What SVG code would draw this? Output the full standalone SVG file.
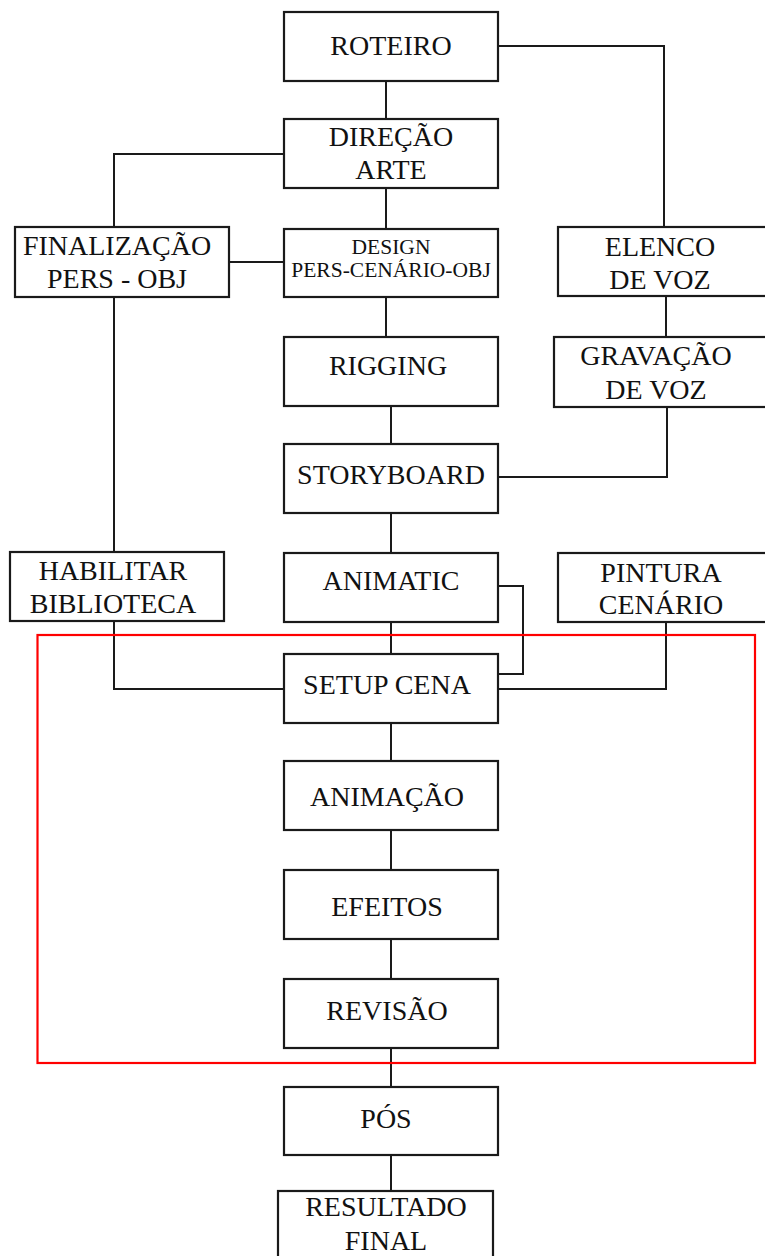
<svg xmlns="http://www.w3.org/2000/svg" width="765" height="1256" viewBox="0 0 765 1256">
<style>
.box{fill:#fff;stroke:#1a1a1a;stroke-width:2.2}
.ln{fill:none;stroke:#1a1a1a;stroke-width:2}
.t{font-family:"Liberation Serif","Times New Roman",serif;font-size:28px;fill:#111;text-anchor:middle}
.s{font-size:21.5px}
</style>
<rect width="765" height="1256" fill="#fff"/>
<g id="connectors">
<path class="ln" d="M386 81V119"/>
<path class="ln" d="M498 46H664V227"/>
<path class="ln" d="M284 154H114V227"/>
<path class="ln" d="M386 188V229"/>
<path class="ln" d="M229 262H284"/>
<path class="ln" d="M114 297V552"/>
<path class="ln" d="M386 297V337"/>
<path class="ln" d="M666 296V337"/>
<path class="ln" d="M391 406V444"/>
<path class="ln" d="M667 407V477H498"/>
<path class="ln" d="M391 513V553"/>
<path class="ln" d="M391 622V654"/>
<path class="ln" d="M498 586H523V674H498"/>
<path class="ln" d="M114 621V689H284"/>
<path class="ln" d="M666 622V689H498"/>
<path class="ln" d="M391 723V761"/>
<path class="ln" d="M391 830V870"/>
<path class="ln" d="M391 939V979"/>
<path class="ln" d="M391 1048V1087"/>
<path class="ln" d="M391 1155V1191"/>
</g>
<rect id="highlight" x="37.5" y="635" width="717.5" height="428" fill="none" stroke="#f00" stroke-width="2.2"/>
<g id="roteiro"><rect class="box" x="284" y="12" width="214" height="69"/><text class="t" x="391" y="55">ROTEIRO</text></g>
<g id="direcao"><rect class="box" x="284" y="119" width="214" height="69"/><text class="t" x="391" y="146">DIREÇÃO</text><text class="t" x="391" y="179">ARTE</text></g>
<g id="finalizacao"><rect class="box" x="15" y="227" width="214" height="70"/><text class="t" x="117" y="255">FINALIZAÇÃO</text><text class="t" x="117" y="288">PERS - OBJ</text></g>
<g id="design"><rect class="box" x="284" y="229" width="214" height="68"/><text class="t s" x="391" y="254">DESIGN</text><text class="t s" x="391" y="277">PERS-CENÁRIO-OBJ</text></g>
<g id="elenco"><rect class="box" x="558" y="227" width="215" height="69"/><text class="t" x="660" y="256">ELENCO</text><text class="t" x="660" y="289">DE VOZ</text></g>
<g id="rigging"><rect class="box" x="284" y="337" width="214" height="69"/><text class="t" x="388" y="375">RIGGING</text></g>
<g id="gravacao"><rect class="box" x="554" y="337" width="219" height="70"/><text class="t" x="656" y="365">GRAVAÇÃO</text><text class="t" x="656" y="399">DE VOZ</text></g>
<g id="storyboard"><rect class="box" x="284" y="444" width="214" height="69"/><text class="t" x="391" y="484">STORYBOARD</text></g>
<g id="habilitar"><rect class="box" x="10" y="552" width="214" height="69"/><text class="t" x="113" y="580">HABILITAR</text><text class="t" x="113" y="613">BIBLIOTECA</text></g>
<g id="animatic"><rect class="box" x="284" y="553" width="214" height="69"/><text class="t" x="391" y="590">ANIMATIC</text></g>
<g id="pintura"><rect class="box" x="558" y="553" width="215" height="69"/><text class="t" x="661" y="582">PINTURA</text><text class="t" x="661" y="614">CENÁRIO</text></g>
<g id="setup"><rect class="box" x="284" y="654" width="214" height="69"/><text class="t" x="387" y="694">SETUP CENA</text></g>
<g id="animacao"><rect class="box" x="284" y="761" width="214" height="69"/><text class="t" x="387" y="806">ANIMAÇÃO</text></g>
<g id="efeitos"><rect class="box" x="284" y="870" width="214" height="69"/><text class="t" x="387" y="916">EFEITOS</text></g>
<g id="revisao"><rect class="box" x="284" y="979" width="214" height="69"/><text class="t" x="387" y="1020">REVISÃO</text></g>
<g id="pos"><rect class="box" x="284" y="1087" width="214" height="68"/><text class="t" x="386" y="1128">PÓS</text></g>
<g id="resultado"><rect class="box" x="278" y="1191" width="215" height="80"/><text class="t" x="386" y="1216">RESULTADO</text><text class="t" x="386" y="1250">FINAL</text></g>
</svg>
